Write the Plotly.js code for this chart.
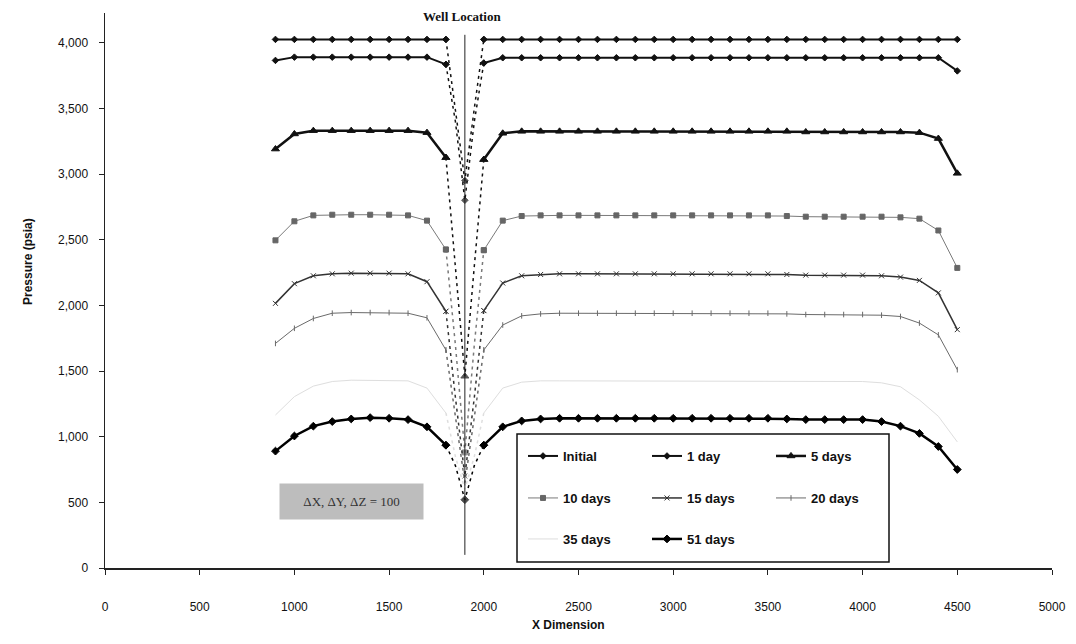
<!DOCTYPE html>
<html>
<head>
<meta charset="utf-8">
<script src="https://cdn.plot.ly/plotly-3.0.1.min.js"></script>
<style>html,body{margin:0;padding:0;background:#fff;}#chart{width:1076px;height:644px;}</style>
</head>
<body>
<div id="chart"></div>
<script>
// X positions of grid blocks (ft)
const xDim = [900,1000,1100,1200,1300,1400,1500,1600,1700,1800,1850,1900,1950,
  2000,2100,2200,2300,2400,2500,2600,2700,2800,2900,3000,3100,3200,3300,3400,3500,
  3600,3700,3800,3900,4000,4100,4200,4300,4400,4500];

const pInitial = [4025,4025,4025,4025,4025,4025,4025,4025,4025,4025,3500,2950,3500,
  4025,4025,4025,4025,4025,4025,4025,4025,4025,4025,4025,4025,4025,4025,4025,4025,
  4025,4025,4025,4025,4025,4025,4025,4025,4025,4025];
const p1day = [3865,3890,3890,3890,3890,3890,3890,3890,3890,3835,3400,2800,3400,
  3845,3885,3885,3885,3885,3885,3885,3885,3885,3885,3885,3885,3885,3885,3885,3885,
  3885,3885,3885,3885,3885,3885,3885,3885,3885,3785];
const p5days = [3190,3305,3330,3330,3330,3330,3330,3330,3315,3125,2300,1460,2300,
  3110,3310,3325,3325,3325,3325,3325,3325,3325,3325,3325,3325,3325,3325,3325,3325,
  3325,3320,3320,3320,3320,3320,3320,3315,3270,3005];
const p10days = [2495,2640,2685,2690,2690,2690,2690,2685,2645,2425,1700,880,1700,
  2420,2645,2680,2685,2685,2685,2685,2685,2685,2685,2685,2685,2685,2685,2685,2685,
  2680,2675,2675,2675,2675,2675,2670,2660,2570,2285];
const p15days = [2015,2165,2225,2240,2245,2245,2245,2240,2180,1955,1300,700,1300,
  1960,2170,2225,2235,2240,2240,2240,2240,2240,2240,2240,2240,2240,2240,2240,2240,
  2235,2230,2230,2230,2230,2225,2215,2190,2095,1815];
const p20days = [1710,1825,1900,1940,1945,1945,1945,1940,1905,1660,1150,650,1150,
  1660,1850,1920,1935,1940,1940,1940,1940,1940,1940,1940,1940,1940,1940,1940,1940,
  1935,1930,1930,1930,1930,1925,1915,1865,1775,1510];
const p35days = [1165,1305,1385,1420,1430,1430,1430,1425,1370,1180,850,600,850,
  1180,1370,1415,1425,1425,1425,1425,1425,1425,1425,1425,1425,1425,1425,1425,1425,
  1425,1420,1420,1420,1420,1410,1380,1280,1155,960];
const p51days = [890,1005,1080,1115,1135,1145,1140,1130,1075,935,780,520,780,
  935,1075,1120,1135,1140,1140,1140,1140,1140,1140,1140,1140,1140,1140,1140,1140,
  1135,1130,1130,1130,1130,1115,1080,1025,925,750];

const seriesNames = ["Initial","1 day","5 days","10 days","15 days","20 days","35 days","51 days"];
const xTicks = [0,500,1000,1500,2000,2500,3000,3500,4000,4500,5000];
const yTicks = [0,500,1000,1500,2000,2500,3000,3500,4000];

const wellX = 1900;
const wellZone = [1800, 2000];   // refined blocks around the well
const wellTop = 4060, wellBottom = 100;
const wellLabel = "Well Location";
const wellLabelY = 4196;
const noteText = "ΔX, ΔY, ΔZ = 100";
const noteX = 1300, noteY = 503;

const styles = [
  {color:"#111", width:2,   symbol:"diamond", size:5, legend:"legend"},
  {color:"#111", width:2,   symbol:"diamond", size:5, legend:"legend"},
  {color:"#111", width:2.5, symbol:"triangle-up", size:7, legend:"legend"},
  {color:"#7a7a7a", width:1, symbol:"square", size:5, legend:"legend2", mcolor:"#666"},
  {color:"#333", width:1.5, symbol:"x-thin", size:5, legend:"legend2"},
  {color:"#6a6a6a", width:1, symbol:"line-ns", size:4, legend:"legend2"},
  {color:"#dedede", width:1, symbol:"circle", size:0, legend:"legend3", nomarker:true},
  {color:"#000", width:2.5, symbol:"diamond", size:6, legend:"legend3"}
];
const dataSets = [pInitial,p1day,p5days,p10days,p15days,p20days,p35days,p51days];

const traces = [];
dataSets.forEach((ys,i)=>{
  const s = styles[i];
  const marker = {symbol:s.symbol, size:s.size, color:s.mcolor||s.color,
      line:{color:s.mcolor||s.color, width:1}};
  // main curve (outside refined well zone)
  traces.push({
    x: xDim, y: ys.map((v,j)=> (xDim[j]>wellZone[0] && xDim[j]<wellZone[1]) ? null : v),
    name: seriesNames[i], type:"scatter", connectgaps:false,
    mode: s.nomarker ? "lines" : "lines+markers",
    legend: s.legend,
    line:{color:s.color, width:s.width},
    marker: marker, hoverinfo:"skip"
  });
});
dataSets.forEach((ys,i)=>{
  const s = styles[i];
  const idx = xDim.map((x,j)=>j).filter(j=> xDim[j]>=wellZone[0] && xDim[j]<=wellZone[1]);
  traces.push({
    x: idx.map(j=>xDim[j]), y: idx.map(j=>ys[j]),
    name: seriesNames[i], type:"scatter", showlegend:false,
    mode: s.nomarker ? "lines" : "lines+markers",
    line:{color:s.color, width:1.5, dash:"3px,4px"},
    marker:{symbol:s.symbol, size:idx.map(j=> xDim[j]===wellX ? s.size : (xDim[j]===wellZone[0]||xDim[j]===wellZone[1]) ? s.size : 0),
      color:s.mcolor||s.color, line:{color:s.mcolor||s.color, width:1}},
    hoverinfo:"skip"
  });
});

const L=105, R=24, T=13, B=76, W=1076, H=644;
const pw = W-L-R, ph = H-T-B;
const px2x = p => (p-L)/pw;
const py2y = p => (H-B-p)/ph;

const legFont = {family:"Liberation Sans, Arial, sans-serif", size:13, color:"#111", weight:700};
function leg(topPx){
  return {orientation:"h", x:px2x(523), y:py2y(topPx), xanchor:"left", yanchor:"top",
    bgcolor:"rgba(0,0,0,0)", borderwidth:0, font:legFont, entrywidth:79,
    entrywidthmode:"pixels", itemwidth:30, traceorder:"normal"};
}

const layout = {
  width:W, height:H,
  margin:{l:L, r:R, t:T, b:B, pad:0},
  paper_bgcolor:"#fff", plot_bgcolor:"#fff",
  showlegend:true,
  legend: leg(441),
  legend2: leg(483),
  legend3: leg(524),
  xaxis:{range:[0,5000], tickvals:xTicks, ticktext:xTicks.map(String),
    showgrid:false, zeroline:false, showline:true, linecolor:"#222", linewidth:1.5,
    ticks:"outside", ticklen:5, tickcolor:"#222", ticklabelstandoff:22,
    tickfont:{family:"Liberation Sans Narrow, Liberation Sans, Arial, sans-serif", size:12, color:"#111"}},
  yaxis:{range:[0,4226], tickvals:yTicks, tickformat:",d",
    showgrid:false, zeroline:false, showline:true, linecolor:"#222", linewidth:1.5,
    ticks:"outside", ticklen:5, tickcolor:"#222", ticklabelstandoff:8,
    tickfont:{family:"Liberation Sans, Arial, sans-serif", size:12, color:"#111"}},
  shapes:[
    {type:"line", xref:"x", yref:"y", x0:wellX, x1:wellX, y0:wellBottom, y1:wellTop,
      line:{color:"#222", width:1}},
    {type:"rect", xref:"paper", yref:"paper", x0:px2x(517), x1:px2x(889), y0:py2y(562), y1:py2y(434),
      line:{color:"#111", width:1.5}, fillcolor:"rgba(0,0,0,0)"}
  ],
  annotations:[
    {xref:"x", yref:"y", x:wellX-15, y:wellLabelY, text:wellLabel, showarrow:false,
      font:{family:"Liberation Serif, Times New Roman, serif", size:13, color:"#111", weight:700}},
    {xref:"x", yref:"y", x:noteX, y:noteY, text:noteText, showarrow:false,
      width:143, height:35, bgcolor:"#bdbdbd", borderpad:0,
      font:{family:"Liberation Serif, Times New Roman, serif", size:13, color:"#333"}},
    {xref:"paper", yref:"paper", x:px2x(568), y:py2y(634), text:"X Dimension", showarrow:false,
      font:{family:"Liberation Sans, Arial, sans-serif", size:12, color:"#111", weight:700}},
    {xref:"paper", yref:"paper", x:px2x(19), y:py2y(262), text:"Pressure (psia)", showarrow:false,
      textangle:-90,
      font:{family:"Liberation Sans, Arial, sans-serif", size:12, color:"#111", weight:700}}
  ]
};

Plotly.newPlot("chart", traces, layout, {staticPlot:true, displayModeBar:false});
</script>
</body>
</html>
